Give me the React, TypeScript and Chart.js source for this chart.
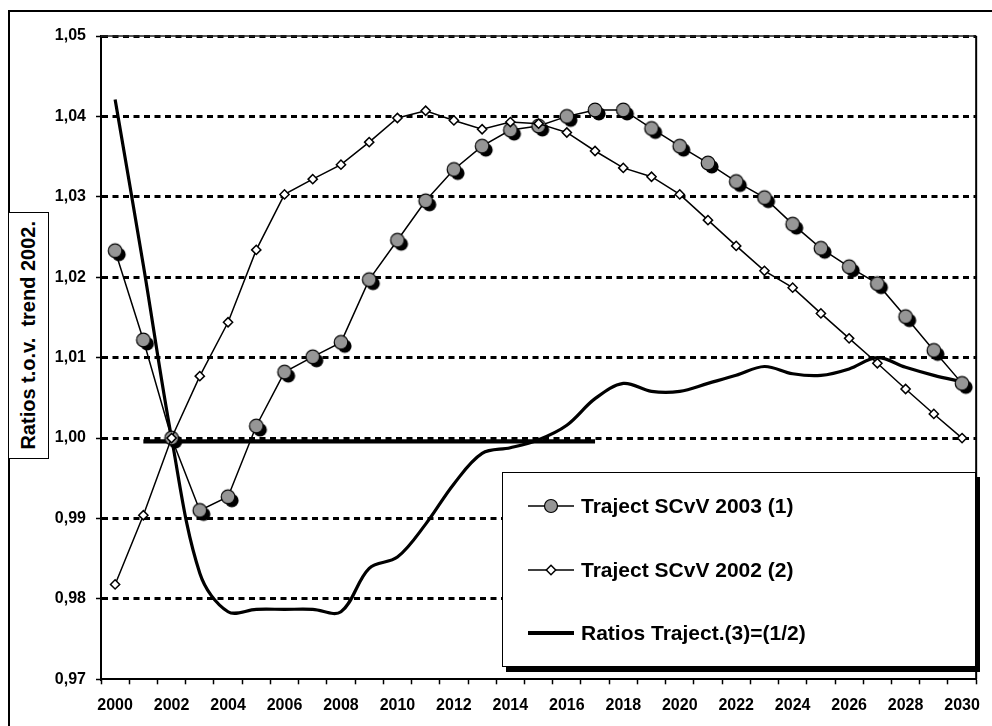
import React, { useEffect, useRef } from "react";
import { Chart, registerables } from "chart.js";

Chart.register(...registerables);

// ---- data ----
const years: string[] = [
  "2000", "2001", "2002", "2003", "2004", "2005", "2006", "2007", "2008", "2009",
  "2010", "2011", "2012", "2013", "2014", "2015", "2016", "2017", "2018", "2019",
  "2020", "2021", "2022", "2023", "2024", "2025", "2026", "2027", "2028", "2029", "2030",
];

const trajectSCvV2003: number[] = [
  1.0233, 1.0122, 1.0, 0.991, 0.9927, 1.0015, 1.0082, 1.0101, 1.0119, 1.0197,
  1.0246, 1.0295, 1.0334, 1.0363, 1.0383, 1.0388, 1.04, 1.0408, 1.0408, 1.0385,
  1.0363, 1.0342, 1.0319, 1.0299, 1.0266, 1.0236, 1.0213, 1.0192, 1.0151, 1.0109, 1.0068,
];

const trajectSCvV2002: number[] = [
  0.9818, 0.9904, 1.0, 1.0077, 1.0144, 1.0234, 1.0303, 1.0322, 1.034, 1.0368,
  1.0398, 1.0407, 1.0395, 1.0384, 1.0393, 1.0391, 1.038, 1.0357, 1.0336, 1.0325,
  1.0303, 1.0271, 1.0239, 1.0208, 1.0187, 1.0155, 1.0124, 1.0093, 1.0061, 1.003, 1.0,
];

const ratiosTraject: number[] = [
  1.0421, 1.0215, 1.0, 0.9832, 0.9784, 0.9787, 0.9787, 0.9787, 0.9784, 0.9838,
  0.9852, 0.9893, 0.9943, 0.9981, 0.9988, 0.9998, 1.0016, 1.0049, 1.0068, 1.0058,
  1.0058, 1.0068, 1.0078, 1.0089, 1.008, 1.0078, 1.0086, 1.01, 1.0088, 1.0078, 1.007,
];

const baseLine: (number | null)[] = [
  null, 0.9996, 0.9996, 0.9996, 0.9996, 0.9996, 0.9996, 0.9996, 0.9996, 0.9996,
  0.9996, 0.9996, 0.9996, 0.9996, 0.9996, 0.9996, 0.9996, 0.9996, null, null,
  null, null, null, null, null, null, null, null, null, null, null,
];

const yMin = 0.97;
const yMax = 1.05;
const yStep = 0.01;

const legendLabels: string[] = [
  "Traject SCvV 2003 (1)",
  "Traject SCvV 2002 (2)",
  "Ratios Traject.(3)=(1/2)",
];
const axisTitle = "Ratios t.o.v.  trend 2002.";

const FONT = "'Liberation Sans', Arial, Helvetica, sans-serif";
const GREY = "#969696";

const plotFrame = {
  id: "plotFrame",
  afterDraw(chart: any) {
    const { ctx, chartArea: a } = chart;
    ctx.save();
    ctx.strokeStyle = "#222";
    ctx.lineWidth = 1.5;
    ctx.beginPath();
    ctx.moveTo(a.left, a.top);
    ctx.lineTo(a.right, a.top);
    ctx.stroke();
    ctx.strokeStyle = "#000";
    ctx.lineWidth = 2;
    ctx.beginPath();
    ctx.moveTo(a.right, a.top);
    ctx.lineTo(a.right, a.bottom);
    ctx.stroke();
    ctx.restore();
  },
};

function LegendSample({ kind }: { kind: number }) {
  return (
    <svg width={46} height={18} style={{ display: "block" }}>
      {kind < 2 ? (
        <line x1={0} y1={9} x2={46} y2={9} stroke="#000" strokeWidth={1.5} />
      ) : (
        <line x1={0} y1={9} x2={46} y2={9} stroke="#000" strokeWidth={4} />
      )}
      {kind === 0 && <circle cx={23} cy={9} r={6.5} fill={GREY} stroke="#000" strokeWidth={1.2} />}
      {kind === 1 && (
        <polygon points="23,4.3 27.7,9 23,13.7 18.3,9" fill="#fff" stroke="#000" strokeWidth={1.5} />
      )}
    </svg>
  );
}

export default function App() {
  const canvasRef = useRef<HTMLCanvasElement>(null);

  useEffect(() => {
    const canvas = canvasRef.current;
    if (!canvas) return;

    const marker = document.createElement("canvas");
    marker.width = 30;
    marker.height = 30;
    const m = marker.getContext("2d")!;
    m.fillStyle = "#000";
    m.beginPath();
    m.arc(18.8, 18.8, 6.8, 0, Math.PI * 2);
    m.fill();
    m.fillStyle = GREY;
    m.beginPath();
    m.arc(15, 15, 6.8, 0, Math.PI * 2);
    m.fill();
    m.lineWidth = 1.2;
    m.strokeStyle = "#000";
    m.stroke();

    const chart = new Chart(canvas, {
      type: "line",
      data: {
        labels: years,
        datasets: [
          {
            label: legendLabels[1],
            data: trajectSCvV2002,
            borderColor: "#000",
            borderWidth: 1.5,
            pointStyle: "rectRot",
            pointRadius: 4.6,
            pointBackgroundColor: "#fff",
            pointBorderColor: "#000",
            pointBorderWidth: 1.5,
            tension: 0,
            order: 0,
          },
          {
            label: legendLabels[0],
            data: trajectSCvV2003,
            borderColor: "#000",
            borderWidth: 1.5,
            pointStyle: marker as any,
            pointRadius: 6.5,
            tension: 0,
            order: 1,
          },
          {
            label: legendLabels[2],
            data: ratiosTraject,
            borderColor: "#000",
            borderWidth: 3.2,
            pointRadius: 0,
            tension: 0.35,
            order: 2,
          },
          {
            label: "1,00",
            data: baseLine,
            borderColor: "#000",
            borderWidth: 4.2,
            pointRadius: 0,
            tension: 0,
            spanGaps: false,
            order: 3,
          },
        ],
      },
      options: {
        responsive: false,
        animation: false,
        events: [],
        layout: { padding: { left: 0, top: 36, right: 9, bottom: 0 } },
        plugins: {
          legend: { display: false },
          tooltip: { enabled: false },
          title: { display: false },
        },
        scales: {
          x: {
            type: "category",
            offset: true,
            grid: {
              offset: true,
              drawOnChartArea: false,
              drawTicks: true,
              tickLength: 5,
              tickColor: "#000",
              tickWidth: 1.5,
              color: "#000",
            },
            border: { display: true, color: "#000", width: 2 },
            ticks: {
              autoSkip: false,
              maxRotation: 0,
              minRotation: 0,
              padding: 12,
              color: "#000",
              font: { family: FONT, size: 16, weight: "bold" },
              callback: (_v: any, i: number) => (i % 2 === 0 ? years[i] : ""),
            },
            afterFit: (s: any) => {
              s.height = 46.7;
            },
          },
          y: {
            type: "linear",
            min: yMin,
            max: yMax,
            grid: {
              drawOnChartArea: true,
              drawTicks: true,
              tickLength: 5,
              tickColor: "#000",
              tickWidth: 1.5,
              tickBorderDash: [],
              lineWidth: 3,
              color: (c: any) => (c.tick && Math.abs(c.tick.value - yMin) < 1e-6 ? "rgba(0,0,0,0)" : "#000"),
            },
            border: { display: true, color: "#000", width: 2, dash: [6, 4.5], dashOffset: 0 },
            ticks: {
              stepSize: yStep,
              padding: 10,
              color: "#000",
              font: { family: FONT, size: 16, weight: "bold" },
              callback: (v: any) => Number(v).toFixed(2).replace(".", ","),
            },
            afterFit: (s: any) => {
              s.width = 101;
            },
          },
        },
      } as any,
      plugins: [plotFrame],
    });

    return () => chart.destroy();
  }, []);

  const rowCenters = [33, 97, 160];

  return (
    <div
      style={{
        position: "fixed",
        left: 0,
        top: 0,
        width: 992,
        height: 726,
        overflow: "hidden",
        background: "#fff",
      }}
    >
      <div
        style={{
          position: "absolute",
          left: 8,
          top: 10,
          width: 2000,
          height: 2000,
          border: "2px solid #000",
          boxSizing: "border-box",
        }}
      />
      <canvas
        ref={canvasRef}
        width={992}
        height={726}
        style={{ position: "absolute", left: 0, top: 0, width: 992, height: 726 }}
      />
      <div
        style={{
          position: "absolute",
          left: 8,
          top: 212,
          width: 41,
          height: 247,
          border: "1.5px solid #000",
          boxSizing: "border-box",
          background: "#fff",
          display: "flex",
          alignItems: "center",
          justifyContent: "center",
        }}
      >
        <span
          style={{
            writingMode: "vertical-rl",
            transform: "rotate(180deg)",
            fontFamily: FONT,
            fontWeight: "bold",
            fontSize: 20,
            whiteSpace: "pre",
            color: "#000",
          }}
        >
          {axisTitle}
        </span>
      </div>
      <div
        style={{
          position: "absolute",
          left: 502,
          top: 472,
          width: 474,
          height: 195,
          border: "1.5px solid #000",
          boxSizing: "border-box",
          background: "#fff",
          boxShadow: "4px 5px 0 #000",
        }}
      >
        {legendLabels.map((lab, i) => (
          <div
            key={lab}
            style={{
              position: "absolute",
              left: 25,
              top: rowCenters[i] - 16,
              height: 32,
              display: "flex",
              alignItems: "center",
              whiteSpace: "nowrap",
            }}
          >
            <LegendSample kind={i} />
            <span
              style={{
                marginLeft: 7,
                fontFamily: FONT,
                fontWeight: "bold",
                fontSize: 21,
                color: "#000",
              }}
            >
              {lab}
            </span>
          </div>
        ))}
      </div>
    </div>
  );
}
